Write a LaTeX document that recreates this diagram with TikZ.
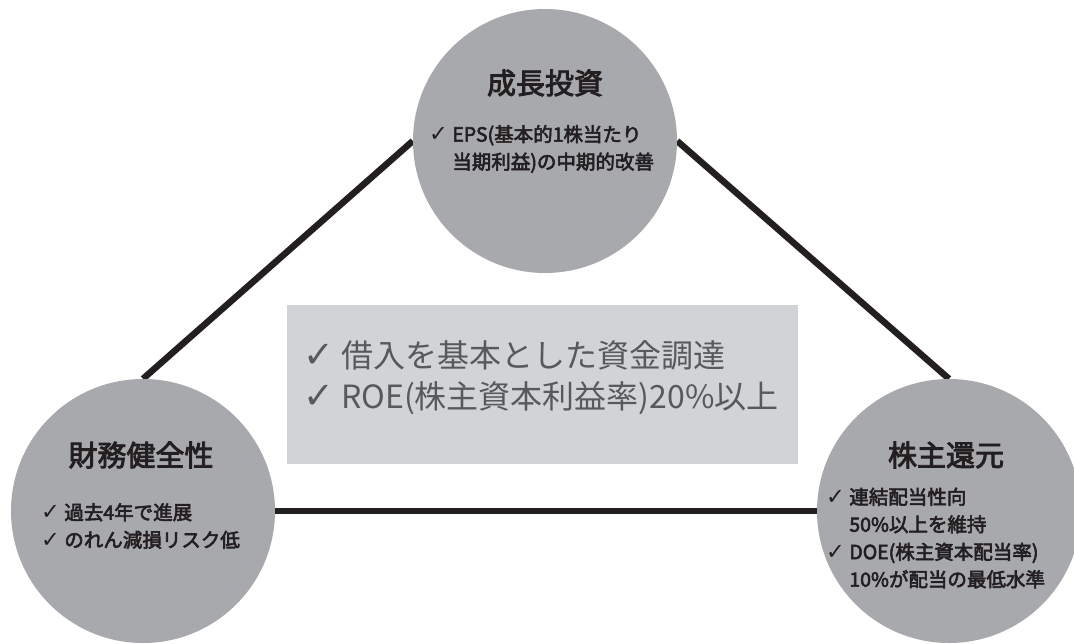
\documentclass[tikz,border=0pt]{standalone}
\usepackage{fontspec}
\setmainfont{Noto Sans CJK JP}
\newfontfamily\medfont[FakeBold=3]{Noto Sans CJK JP}
\newfontfamily\chkfont{DejaVu Sans}
\usetikzlibrary{backgrounds}
\definecolor{circfill}{HTML}{A7A9AC}
\definecolor{boxfill}{HTML}{D1D3D4}
\definecolor{darktext}{HTML}{231F20}
\definecolor{boxtext}{HTML}{58595B}
\definecolor{linecol}{HTML}{231F20}
\newcommand\ck{{\chkfont\bfseries\scalebox{1.15}{\char"2713}}\ }
\newcommand\ind{\phantom{\ck}}
\tikzset{
  pillar/.style={circle, fill=circfill, draw=none, minimum size=264pt, inner sep=0pt},
  conn/.style={draw=linecol, line width=6.5pt},
  title/.style={text=darktext, font=\medfont\fontsize{29}{32}\selectfont, inner sep=0pt},
  bullets/.style={text=darktext, font=\medfont\fontsize{19.5}{27.5}\selectfont, align=left, inner sep=0pt, anchor=west},
  centerbox/.style={fill=boxfill, draw=none, inner sep=0pt},
  boxlines/.style={text=boxtext, font=\fontsize{32}{41}\selectfont, align=left, inner sep=0pt, anchor=west}
}
\begin{document}
\begin{tikzpicture}[x=1pt,y=-1pt]
\useasboundingbox (0,0) rectangle (1074,643);
\clip (0,0) rectangle (1074,643);
% circles
\node[pillar] (T) at (545,141) {};
\node[pillar] (L) at (143,511) {};
\node[pillar] (R) at (949,511) {};
% connectors
\begin{scope}[on background layer]
\draw[conn] (L.north) -- (T.west);
\draw[conn] (T.east) -- (R.north);
\draw[conn] (L.east) -- (R.west);
\end{scope}
% center box
\path[centerbox] (287,305) rectangle (798,464);
\node[boxlines] (boxtxt) at (303,378) {\ck 借入を基本とした資金調達\\\ck ROE(株主資本利益率)20\%以上};
% titles
\node[title] (Tt) at (545,83) {成長投資};
\node[title] (Lt) at (141,455) {財務健全性};
\node[title] (Rt) at (946,455) {株主還元};
% bullets
\node[bullets] (Tb) at (429,149) {\ck EPS(基本的1株当たり\\\ind 当期利益)の中期的改善};
\node[bullets] (Lb) at (41,526) {\ck 過去4年で進展\\\ck のれん減損リスク低};
\node[bullets] (Rb) at (826,538) {\ck 連結配当性向\\\ind 50\%以上を維持\\\ck DOE(株主資本配当率)\\\ind 10\%が配当の最低水準};
\end{tikzpicture}
\end{document}
